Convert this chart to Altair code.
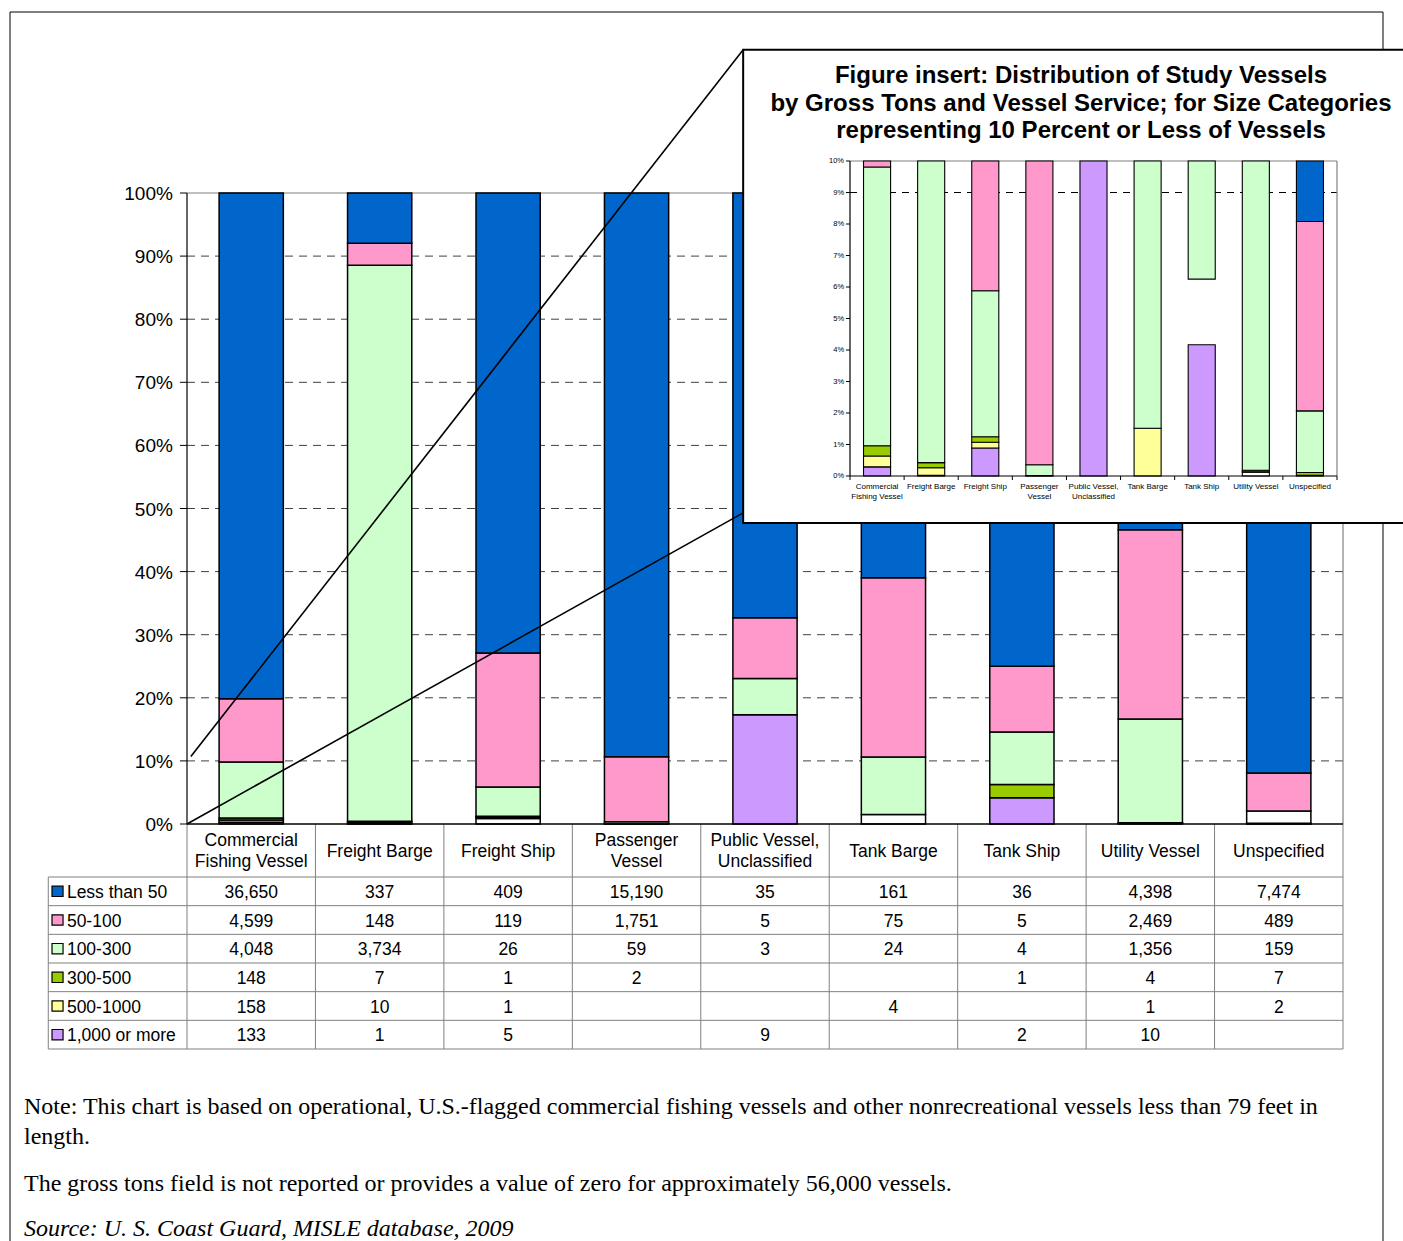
import altair as alt
import pandas as pd

# ---------------- data ----------------
services = [
    "Commercial Fishing Vessel", "Freight Barge", "Freight Ship", "Passenger Vessel",
    "Public Vessel, Unclassified", "Tank Barge", "Tank Ship", "Utility Vessel", "Unspecified",
]
service_labels = [
    "Commercial\nFishing Vessel", "Freight Barge", "Freight Ship", "Passenger\nVessel",
    "Public Vessel,\nUnclassified", "Tank Barge", "Tank Ship", "Utility Vessel", "Unspecified",
]
size_classes = ["Less than 50", "50-100", "100-300", "300-500", "500-1000", "1,000 or more"]

less_than_50 = [36650, 337, 409, 15190, 35, 161, 36, 4398, 7474]
gt_50_100 = [4599, 148, 119, 1751, 5, 75, 5, 2469, 489]
gt_100_300 = [4048, 3734, 26, 59, 3, 24, 4, 1356, 159]
gt_300_500 = [148, 7, 1, 2, None, None, 1, 4, 7]
gt_500_1000 = [158, 10, 1, None, None, 4, None, 1, 2]
gt_1000_plus = [133, 1, 5, None, 9, None, 2, 10, None]
class_counts = [less_than_50, gt_50_100, gt_100_300, gt_300_500, gt_500_1000, gt_1000_plus]

y_ticks_main = [i / 10 for i in range(11)]
y_ticks_inset = [i / 100 for i in range(11)]

note_lines = [
    "Note: This chart is based on operational, U.S.-flagged commercial fishing vessels and other nonrecreational vessels less than 79 feet in",
    "length.",
    "The gross tons field is not reported or provides a value of zero for approximately 56,000 vessels.",
]
source_line = "Source: U. S. Coast Guard, MISLE database, 2009"
inset_title = "Figure insert: Distribution of Study Vessels\nby Gross Tons and Vessel Service; for Size Categories\nrepresenting 10 Percent or Less of Vessels"

# ---------------- styling ----------------
class_colors = ["#0066CC", "#FF99CC", "#CCFFCC", "#99CC00", "#FFFF99", "#CC99FF"]
# segments that the source drawing leaves uncoloured
blank_in_main = {("Freight Ship", "1,000 or more"), ("Tank Barge", "500-1000"), ("Unspecified", "100-300")}
blank_in_inset = {("Utility Vessel", "1,000 or more")}
hidden_in_inset = {("Tank Ship", "300-500")}

FONT = "Liberation Sans"
SERIF = "Liberation Serif"
W, H = 1403, 1241
GRID = "#808080"


def qs(domain, rng, **kw):
    return alt.Scale(domain=domain, range=rng, nice=False, zero=False, **kw)


MX = qs([0, 9], [187, 1343])            # main chart: category index
MY = qs([0, 1], [824, 193])             # main chart: share of vessels
TY = qs([0, 6], [877, 1049])            # table rows
IX = qs([0, 9], [850, 1337])            # inset: category index
IY = qs([0, 0.1], [476, 161], clamp=True)  # inset: share, 0-10 %

TABLE_LEFT = -1.08     # left edge of legend column, in main category units
HEADER_TOP = -1.85     # top of the header row, in table row units

# ---------------- derived tables ----------------
seg_rows = []
for i, svc in enumerate(services):
    total = sum(c[i] or 0 for c in class_counts)
    base = 0.0
    for k in reversed(range(len(size_classes))):
        n = class_counts[k][i]
        if not n:
            continue
        share = n / total
        key = (svc, size_classes[k])
        seg_rows.append(dict(
            service=svc, idx=i, size=size_classes[k], n=n,
            y0=base, y1=base + share,
            x0=i + 0.25, x1=i + 0.75,
            fill_main="white" if key in blank_in_main else class_colors[k],
            fill_inset="white" if key in blank_in_inset else class_colors[k],
            in_inset=(base < 0.1) and key not in hidden_in_inset,
        ))
        base += share
seg = pd.DataFrame(seg_rows)
seg_inset = seg[seg.in_inset].copy()

cells = []
for k, cls in enumerate(size_classes):
    for i, svc in enumerate(services):
        n = class_counts[k][i]
        cells.append(dict(row=k + 0.5, col=i + 0.5, txt=f"{n:,}" if n else ""))
cells = pd.DataFrame(cells)

legend_df = pd.DataFrame({
    "size": size_classes, "color": class_colors,
    "row": [k + 0.5 for k in range(6)],
    "r0": [k + 0.5 - 0.18 for k in range(6)], "r1": [k + 0.5 + 0.18 for k in range(6)],
})
header_df = pd.DataFrame({"label": service_labels, "col": [i + 0.5 for i in range(9)]})
header_df["two"] = header_df.label.str.contains("\n")
one = pd.DataFrame({"k": [0]})


def noaxis(ch, field, scale):
    return ch(field, scale=scale, axis=None)


layers = []

# outer frame
layers.append(alt.Chart(one).mark_rect(fillOpacity=0, stroke="black", strokeWidth=1).encode(
    x=alt.value(10), x2=alt.value(1383), y=alt.value(12), y2=alt.value(1300)))

# main gridlines and plot border
gdf = pd.DataFrame({"v": y_ticks_main[1:-1], "a": 0, "b": 9})
layers.append(alt.Chart(gdf).mark_rule(color="#404040", strokeDash=[8, 6], strokeWidth=1).encode(
    x=noaxis(alt.X, "a:Q", MX), x2="b:Q", y=noaxis(alt.Y, "v:Q", MY)))
layers.append(alt.Chart(pd.DataFrame({"v": [1.0], "a": 0, "b": 9})).mark_rule(color=GRID, strokeWidth=1.2).encode(
    x=noaxis(alt.X, "a:Q", MX), x2="b:Q", y=noaxis(alt.Y, "v:Q", MY)))
layers.append(alt.Chart(pd.DataFrame({"c": [9], "a": 0.0, "b": 1.0})).mark_rule(color=GRID, strokeWidth=1.2).encode(
    x=noaxis(alt.X, "c:Q", MX), y=noaxis(alt.Y, "a:Q", MY), y2="b:Q"))

# table grid
hl = pd.DataFrame({"r": list(range(7)), "a": TABLE_LEFT, "b": 9})
layers.append(alt.Chart(hl).mark_rule(color=GRID, strokeWidth=1).encode(
    x=noaxis(alt.X, "a:Q", MX), x2="b:Q", y=noaxis(alt.Y, "r:Q", TY)))
vl = pd.DataFrame({"c": list(range(10)), "a": HEADER_TOP, "b": 6})
layers.append(alt.Chart(vl).mark_rule(color=GRID, strokeWidth=1).encode(
    x=noaxis(alt.X, "c:Q", MX), y=noaxis(alt.Y, "a:Q", TY), y2="b:Q"))
layers.append(alt.Chart(pd.DataFrame({"c": [TABLE_LEFT], "a": 0, "b": 6})).mark_rule(color=GRID, strokeWidth=1).encode(
    x=noaxis(alt.X, "c:Q", MX), y=noaxis(alt.Y, "a:Q", TY), y2="b:Q"))

# main stacked bars
layers.append(alt.Chart(seg).mark_rect(stroke="black", strokeWidth=1.5).encode(
    x=noaxis(alt.X, "x0:Q", MX), x2="x1:Q",
    y=noaxis(alt.Y, "y0:Q", MY), y2="y1:Q",
    fill=alt.Fill("fill_main:N", scale=None)))

# main axes
layers.append(alt.Chart(pd.DataFrame({"c": [0], "a": 0.0, "b": 1.0})).mark_rule(color="black", strokeWidth=1.2).encode(
    x=noaxis(alt.X, "c:Q", MX), y=noaxis(alt.Y, "a:Q", MY), y2="b:Q"))
layers.append(alt.Chart(pd.DataFrame({"v": [0.0], "a": 0, "b": 9})).mark_rule(color="black", strokeWidth=1.5).encode(
    x=noaxis(alt.X, "a:Q", MX), x2="b:Q", y=noaxis(alt.Y, "v:Q", MY)))
tk = pd.DataFrame({"v": y_ticks_main, "a": -0.055, "b": 0.0, "lx": -0.11,
                   "txt": [f"{round(v * 100)}%" for v in y_ticks_main]})
layers.append(alt.Chart(tk).mark_rule(color="black", strokeWidth=1).encode(
    x=noaxis(alt.X, "a:Q", MX), x2="b:Q", y=noaxis(alt.Y, "v:Q", MY)))
layers.append(alt.Chart(tk).mark_text(font=FONT, fontSize=19, align="right", baseline="middle", color="black", dy=1).encode(
    x=noaxis(alt.X, "lx:Q", MX), y=noaxis(alt.Y, "v:Q", MY), text="txt:N"))

# table header (one- and two-line labels), values and legend
layers.append(alt.Chart(header_df[~header_df.two]).mark_text(
    font=FONT, fontSize=17.5, align="center", baseline="middle", color="black").encode(
    x=noaxis(alt.X, "col:Q", MX), y=alt.value(852), text="label:N"))
layers.append(alt.Chart(header_df[header_df.two]).mark_text(
    font=FONT, fontSize=17.5, align="center", baseline="middle", lineBreak="\n", lineHeight=21,
    color="black").encode(
    x=noaxis(alt.X, "col:Q", MX), y=alt.value(841), text="label:N"))
layers.append(alt.Chart(cells).mark_text(font=FONT, fontSize=17.5, align="center", baseline="middle",
                                         color="black", dy=1.5).encode(
    x=noaxis(alt.X, "col:Q", MX), y=noaxis(alt.Y, "row:Q", TY), text="txt:N"))
legend_df["s0"] = -1.051
legend_df["s1"] = -0.965
legend_df["lx"] = -0.935
layers.append(alt.Chart(legend_df).mark_rect(stroke="black", strokeWidth=1.2).encode(
    x=noaxis(alt.X, "s0:Q", MX), x2="s1:Q", y=noaxis(alt.Y, "r0:Q", TY), y2="r1:Q",
    fill=alt.Fill("color:N", scale=None)))
layers.append(alt.Chart(legend_df).mark_text(font=FONT, fontSize=17.5, align="left", baseline="middle",
                                             color="black", dy=1.5).encode(
    x=noaxis(alt.X, "lx:Q", MX), y=noaxis(alt.Y, "row:Q", TY), text="size:N"))

# callout lines from the lower bars to the inset (main chart units)
callout = pd.DataFrame({"x": [0.03, 0.0], "y": [0.107, 0.0], "x2": [4.33, 4.33], "y2": [1.227, 0.493]})
layers.append(alt.Chart(callout).mark_rule(color="black", strokeWidth=1.6).encode(
    x=noaxis(alt.X, "x:Q", MX), x2="x2:Q", y=noaxis(alt.Y, "y:Q", MY), y2="y2:Q"))

# inset panel
box = pd.DataFrame({"x0": [4.33], "x1": [9.9], "y0": [0.477], "y1": [1.227]})
layers.append(alt.Chart(box).mark_rect(fill="white", stroke="black", strokeWidth=2).encode(
    x=noaxis(alt.X, "x0:Q", MX), x2="x1:Q", y=noaxis(alt.Y, "y0:Q", MY), y2="y1:Q"))
layers.append(alt.Chart(one).mark_text(font=FONT, fontSize=24, fontWeight="bold", align="center", baseline="top",
                                       lineBreak="\n", lineHeight=27.5, color="black").encode(
    x=alt.value(1081), y=alt.value(64), text=alt.value(inset_title)))

ig = pd.DataFrame({"v": [0.09], "a": 0, "b": 9})
layers.append(alt.Chart(ig).mark_rule(color="black", strokeDash=[7, 6], strokeWidth=1).encode(
    x=noaxis(alt.X, "a:Q", IX), x2="b:Q", y=noaxis(alt.Y, "v:Q", IY)))
layers.append(alt.Chart(pd.DataFrame({"v": [0.1], "a": 0, "b": 9})).mark_rule(color=GRID, strokeWidth=1.2).encode(
    x=noaxis(alt.X, "a:Q", IX), x2="b:Q", y=noaxis(alt.Y, "v:Q", IY)))
layers.append(alt.Chart(pd.DataFrame({"c": [9], "a": 0.0, "b": 0.1})).mark_rule(color=GRID, strokeWidth=1.2).encode(
    x=noaxis(alt.X, "c:Q", IX), y=noaxis(alt.Y, "a:Q", IY), y2="b:Q"))

layers.append(alt.Chart(seg_inset).mark_rect(stroke="black", strokeWidth=1.1).encode(
    x=noaxis(alt.X, "x0:Q", IX), x2="x1:Q",
    y=noaxis(alt.Y, "y0:Q", IY), y2="y1:Q",
    fill=alt.Fill("fill_inset:N", scale=None)))

layers.append(alt.Chart(pd.DataFrame({"c": [0], "a": 0.0, "b": 0.1})).mark_rule(color="black", strokeWidth=1.2).encode(
    x=noaxis(alt.X, "c:Q", IX), y=noaxis(alt.Y, "a:Q", IY), y2="b:Q"))
layers.append(alt.Chart(pd.DataFrame({"v": [0.0], "a": 0, "b": 9})).mark_rule(color="black", strokeWidth=1.2).encode(
    x=noaxis(alt.X, "a:Q", IX), x2="b:Q", y=noaxis(alt.Y, "v:Q", IY)))
itk = pd.DataFrame({"v": y_ticks_inset, "a": -0.075, "b": 0.0, "lx": -0.11,
                    "txt": [f"{round(v * 100)}%" for v in y_ticks_inset]})
layers.append(alt.Chart(itk).mark_rule(color="black", strokeWidth=1).encode(
    x=noaxis(alt.X, "a:Q", IX), x2="b:Q", y=noaxis(alt.Y, "v:Q", IY)))
layers.append(alt.Chart(itk).mark_text(font=FONT, fontSize=7.5, align="right", baseline="middle", color="black").encode(
    x=noaxis(alt.X, "lx:Q", IX), y=noaxis(alt.Y, "v:Q", IY), text="txt:N"))
ixt = pd.DataFrame({"c": list(range(10)), "v": 0.0})
layers.append(alt.Chart(ixt).mark_rule(color="black", strokeWidth=1).encode(
    x=noaxis(alt.X, "c:Q", IX), y=noaxis(alt.Y, "v:Q", IY), y2=alt.value(480)))
layers.append(alt.Chart(header_df).mark_text(font=FONT, fontSize=8, align="center", baseline="top",
                                             lineBreak="\n", lineHeight=10, color="black").encode(
    x=noaxis(alt.X, "col:Q", IX), y=alt.value(483), text="label:N"))

# notes and source
for txt, ypos in zip(note_lines, [1107, 1137, 1184]):
    layers.append(alt.Chart(one).mark_text(font=SERIF, fontSize=24, align="left", baseline="middle", color="black").encode(
        x=alt.value(24), y=alt.value(ypos), text=alt.value(txt)))
layers.append(alt.Chart(one).mark_text(font=SERIF, fontSize=24, fontStyle="italic", align="left", baseline="middle",
                                       color="black").encode(
    x=alt.value(24), y=alt.value(1229), text=alt.value(source_line)))

chart = alt.layer(*layers).resolve_scale(x="independent", y="independent").properties(
    width=W, height=H, padding=0, autosize=alt.AutoSizeParams(type="none"), background="white"
).configure_view(strokeWidth=0)

chart.save("out.html", embed_options={"renderer": "svg", "actions": False})
